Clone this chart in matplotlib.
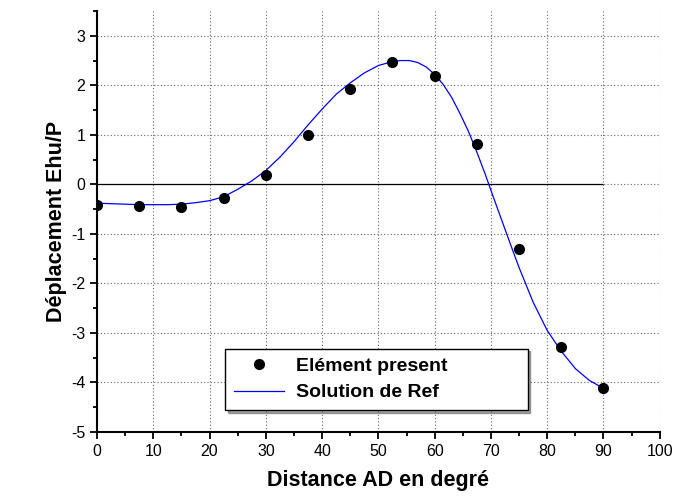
import matplotlib
matplotlib.use('Agg')
import matplotlib.pyplot as plt
from matplotlib.ticker import MultipleLocator

plt.rcParams['font.family'] = ['Liberation Sans', 'DejaVu Sans']
plt.rcParams['axes.unicode_minus'] = False

# points computed (Elément present)
x_pts = [0, 7.5, 15, 22.5, 30, 37.5, 45, 52.5, 60, 67.5, 75, 82.5, 90]
y_pts = [-0.42, -0.44, -0.45, -0.28, 0.19, 0.99, 1.92, 2.47, 2.19, 0.81, -1.31, -3.29, -4.12]

# reference solution
x_ref = [0, 2.5, 5, 7.5, 10, 12.5, 15, 17.5, 20, 22.5, 25, 27.5, 30, 32.5, 35, 37.5,
         40, 42.5, 45, 47.5, 50, 52.5, 54, 55.5, 57, 58.5, 60, 61.5, 63, 64.5, 66,
         67.5, 69, 70.5, 72, 73.5, 75, 77.5, 80, 82.5, 85, 87.5, 90]
y_ref = [-0.38, -0.39, -0.40, -0.41, -0.41, -0.41, -0.40, -0.37, -0.33, -0.25, -0.10,
         0.07, 0.28, 0.55, 0.86, 1.20, 1.52, 1.82, 2.05, 2.25, 2.40, 2.48, 2.50, 2.50,
         2.46, 2.37, 2.22, 2.02, 1.76, 1.43, 1.07, 0.65, 0.20, -0.28, -0.75, -1.22,
         -1.68, -2.38, -2.95, -3.37, -3.72, -3.96, -4.12]

fig = plt.figure(figsize=(6.76, 4.97), dpi=100)
ax = fig.add_axes([0.1435, 0.1308, 0.8325, 0.847])

ax.grid(True, which='major', color='#666666', linestyle=(0, (1, 2)), linewidth=0.8)
ax.hlines(0, x_ref[0], x_ref[-1], color='black', linewidth=0.9, zorder=2)

ax.plot(x_ref, y_ref, color='#0000ff', linewidth=0.9, label='Solution de Ref', zorder=3)
ax.plot(x_pts, y_pts, 'o', color='black', markersize=7, label='Elément present', zorder=4)

ax.set_xlim(0, 100)
ax.set_ylim(-5, 3.5)
ax.xaxis.set_major_locator(MultipleLocator(10))
ax.xaxis.set_minor_locator(MultipleLocator(5))
ax.yaxis.set_minor_locator(MultipleLocator(0.5))
ax.set_yticks(range(-5, 4))
ax.tick_params(which='major', direction='out', length=5, width=1.3, labelsize=11.5)
ax.tick_params(which='minor', direction='out', length=3, width=1.3)

for s in ['top', 'right']:
    ax.spines[s].set_visible(False)
for s in ['left', 'bottom']:
    ax.spines[s].set_linewidth(1.5)

ax.set_xlabel('Distance AD en degré', fontsize=15.5, fontweight='bold', labelpad=8)
ax.set_ylabel('Déplacement Ehu/P', fontsize=15.5, fontweight='bold', labelpad=3)

handles, labels = ax.get_legend_handles_labels()
leg = ax.legend(handles[::-1], labels[::-1], loc='lower left',
                bbox_to_anchor=(0.227, 0.052, 0.538, 0.143), mode='expand',
                borderaxespad=0,
                prop={'weight': 'bold', 'size': 14}, frameon=True, fancybox=False,
                shadow=True, edgecolor='black', borderpad=0.45, labelspacing=0.45,
                handlelength=2.6, handletextpad=0.6)
leg.get_frame().set_linewidth(1.0)

fig.savefig('out.png', dpi=100)
